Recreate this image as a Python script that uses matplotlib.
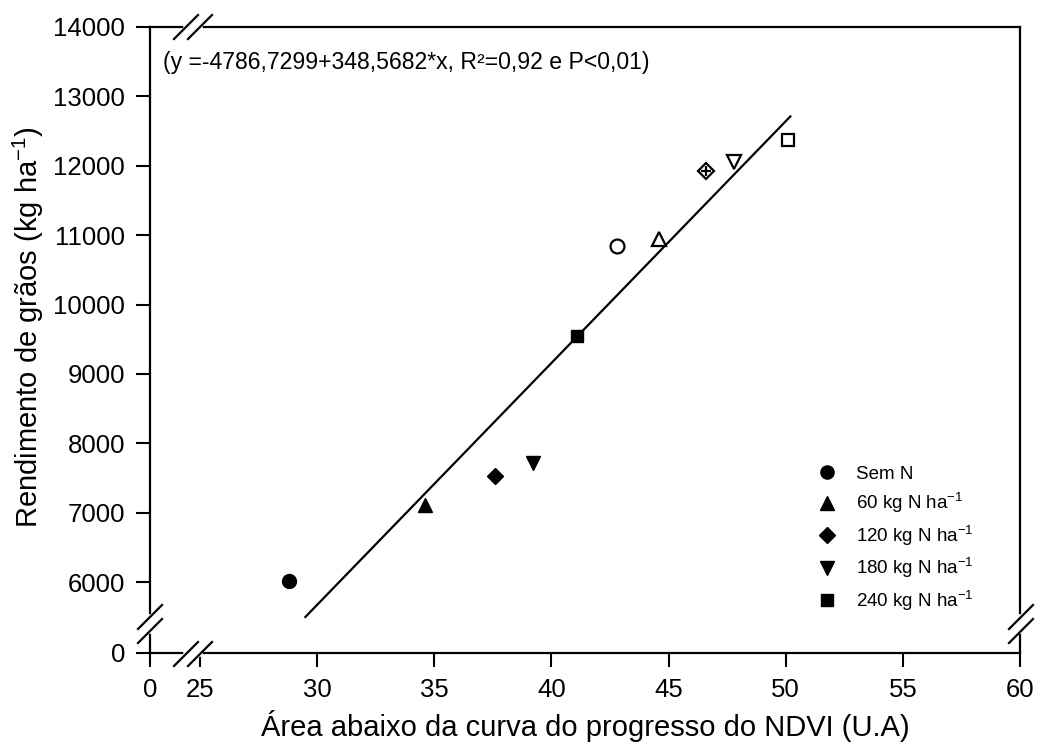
import matplotlib
matplotlib.use("Agg")
import matplotlib.pyplot as plt
from matplotlib.lines import Line2D
import numpy as np

plt.rcParams['font.family'] = ['Liberation Sans', 'DejaVu Sans']
plt.rcParams['mathtext.fontset'] = 'custom'
plt.rcParams['mathtext.rm'] = 'Liberation Sans'
plt.rcParams['mathtext.it'] = 'Liberation Sans:italic'
plt.rcParams['mathtext.default'] = 'regular'

# ---- data ----
labels = ['Sem N', '60 kg N ha$^{-1}$', '120 kg N ha$^{-1}$',
          '180 kg N ha$^{-1}$', '240 kg N ha$^{-1}$']
markers = ['o', '^', 'D', 'v', 's']
x_filled = [28.8, 34.6, 37.6, 39.2, 41.1]
y_filled = [6020, 7110, 7530, 7710, 9550]
x_open = [42.8, 44.6, 46.6, 47.8, 50.1]
y_open = [10840, 10940, 11930, 12060, 12370]

intercept = -4786.7299
slope = 348.5682
fit_x = [29.5, 50.2]

xticks = [22.87, 25, 30, 35, 40, 45, 50, 55, 60]
xticklabels = ['0', '25', '30', '35', '40', '45', '50', '55', '60']
yticks = [4977, 6000, 7000, 8000, 9000, 10000, 11000, 12000, 13000, 14000]
yticklabels = ['0', '6000', '7000', '8000', '9000', '10000', '11000', '12000', '13000', '14000']

fig = plt.figure(figsize=(10.41, 7.46), dpi=100)
ax = fig.add_axes([150/1041, 1-653/746, 870/1041, 626/746])

msize = {'o': 10, '^': 10, 'D': 8.5, 'v': 10, 's': 9}
handles = []
for xf, yf, xo, yo, m, lab in zip(x_filled, y_filled, x_open, y_open, markers, labels):
    ax.plot([xf], [yf], marker=m, color='black', markersize=msize[m], linestyle='none', zorder=3)
    ax.plot([xo], [yo], marker=m, markerfacecolor='white', markeredgecolor='black',
            markeredgewidth=1.6, markersize=msize[m], linestyle='none', zorder=3)
    if m == 'D':
        ax.plot([xo], [yo], marker='+', color='black', markersize=7, markeredgewidth=1.6,
                linestyle='none', zorder=4)
    handles.append(Line2D([], [], marker=m, color='black', linestyle='none',
                          markersize=msize[m] * 0.95, label=lab))

fx = np.array(fit_x)
ax.plot(fx, intercept + slope * fx, color='black', linewidth=1.6, zorder=2)

ax.set_xlim(22.87, 60)
ax.set_ylim(4977, 14000)
ax.set_xticks(xticks)
ax.set_xticklabels(xticklabels)
ax.set_yticks(yticks)
ax.set_yticklabels(yticklabels)
ax.tick_params(axis='both', direction='out', length=10, width=1.5, labelsize=18.5,
               top=False, right=False, pad=8)
for s in ax.spines.values():
    s.set_linewidth(1.6)

ax.set_xlabel('Área abaixo da curva do progresso do NDVI (U.A)', fontsize=21, labelpad=6)
ax.set_ylabel('Rendimento de grãos (kg ha$^{-1}$)', fontsize=21, labelpad=4)
ax.yaxis.set_label_coords(-0.119, (653 - 327) / 626)

fig.text(163 / 1041, 1 - 62 / 746, '(y =-4786,7299+348,5682*x, R²=0,92 e P<0,01)',
         fontsize=16.6, va='center', ha='left')

leg = ax.legend(handles=handles, loc='upper left', bbox_to_anchor=((805-150)/870, (653-458)/626),
                frameon=False, fontsize=13.5, handletextpad=0.8, labelspacing=0.45,
                handlelength=1.5, borderaxespad=0)

# ---- axis breaks ----
def px(xp, yp):
    return (xp / 1041, 1 - yp / 746)

def brk(cx, cy, horizontal):
    if horizontal:
        g = [px(cx - 7, cy), px(cx + 7, cy)]
        offs = [(-7, 0), (7, 0)]
    else:
        g = [px(cx, cy - 7), px(cx, cy + 7)]
        offs = [(0, -7), (0, 7)]
    fig.add_artist(Line2D([g[0][0], g[1][0]], [g[0][1], g[1][1]], color='white',
                          linewidth=4, transform=fig.transFigure, zorder=10))
    for ox, oy in offs:
        a = px(cx + ox - 12, cy + oy + 12)
        b = px(cx + ox + 12, cy + oy - 12)
        fig.add_artist(Line2D([a[0], b[0]], [a[1], b[1]], color='black', linewidth=1.6,
                              transform=fig.transFigure, zorder=11))

brk(193, 654, True)
brk(193, 27, True)
brk(150, 624, False)
brk(1021, 624, False)

fig.savefig('out.png', dpi=100)
